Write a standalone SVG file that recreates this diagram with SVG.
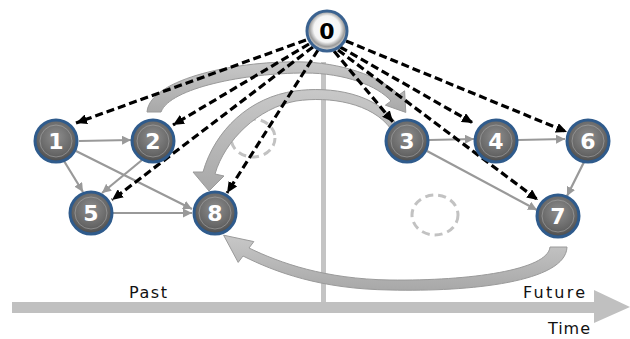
<svg xmlns="http://www.w3.org/2000/svg" width="630" height="339" viewBox="0 0 630 339">
<defs>
<marker id="ahB" markerUnits="userSpaceOnUse" markerWidth="12" markerHeight="10" refX="11" refY="5" orient="auto"><path d="M0,0 L11,5 L0,10 z" fill="#000"/></marker>
<marker id="ahG" markerUnits="userSpaceOnUse" markerWidth="10" markerHeight="9" refX="9" refY="4.5" orient="auto"><path d="M0,0 L9,4.5 L0,9 z" fill="#999"/></marker>
<radialGradient id="ng" cx="50%" cy="40%" r="60%">
<stop offset="0" stop-color="#8e8e8e"/><stop offset="0.7" stop-color="#666"/><stop offset="1" stop-color="#4a4a4a"/>
</radialGradient>
<radialGradient id="n0" cx="50%" cy="45%" r="55%">
<stop offset="0" stop-color="#fff"/><stop offset="0.6" stop-color="#f4f4f4"/><stop offset="0.8" stop-color="#9a9a9a"/><stop offset="1" stop-color="#eee"/>
</radialGradient>
<linearGradient id="ag" x1="0" y1="0" x2="0" y2="1">
<stop offset="0" stop-color="#c8c8c8"/><stop offset="1" stop-color="#a8a8a8"/>
</linearGradient>
</defs>
<style>
.dash{stroke:#000;stroke-width:3.2;stroke-dasharray:8,4;fill:none;marker-end:url(#ahB)}
.sol{stroke:#999;stroke-width:2.2;fill:none;marker-end:url(#ahG)}
.node circle.o{fill:url(#ng);stroke:#2f5b8c;stroke-width:3}
.node circle.i{fill:none;stroke:#a9a9a9;stroke-width:1;opacity:0.6}
.node text{font-family:"DejaVu Sans",sans-serif;font-weight:bold;font-size:22px;fill:#fff;text-anchor:middle}
.big{fill:url(#ag);stroke:#9a9a9a;stroke-width:1}
.dc{fill:none;stroke:#c2c2c2;stroke-width:3;stroke-dasharray:8,5}
.lbl{font-family:"DejaVu Sans",sans-serif;font-size:16px;fill:#111}
</style>
<g id="timeline">
<rect x="12" y="302" width="588" height="11" fill="#c0c0c0"/>
<polygon points="594,290 630,307 594,323" fill="#c0c0c0"/>
<rect x="321" y="62" width="5" height="240" fill="#c4c4c4"/>
<text class="lbl" x="129" y="298" textLength="38">Past</text>
<text class="lbl" x="523" y="298" textLength="62">Future</text>
<text class="lbl" x="548" y="334" textLength="42">Time</text>
</g>
<g id="dashed-circles">
<ellipse class="dc" cx="253" cy="138" rx="22" ry="19"/>
<ellipse class="dc" cx="435" cy="215" rx="23" ry="20"/>
</g>
<g id="flow-arrows">
<path class="big" d="M147,112 C150,78 240,60 305,62 C350,64 385,80 399,95 L404.6,90.8 L405.8,112.4 L385.4,105.2 L391,101 C378,86 345,73 305,73 C245,73 170,88 161,112 Z"/>
<path class="big" d="M397,125 C378,93 330,86 295,91 C250,97 215,130 203,172 L193,172 L209,191 L224,176 L215,174 C225,140 258,108 296,101 C330,96 372,103 391,129 Z"/>
<path class="big" d="M550,247 L567,247 C566,282 470,292 390,290 C320,289 275,272 243,256 L238.2,262.4 L223.6,235.2 L253.8,241.6 L249,248 C280,263 325,279 390,280 C470,281 548,270 550,247 Z"/>
</g>
<g id="connectors">
<line class="sol" x1="79" y1="141" x2="131" y2="140"/>
<line class="sol" x1="64" y1="161" x2="83" y2="192"/>
<line class="sol" x1="76" y1="151" x2="192" y2="209"/>
<line class="sol" x1="142" y1="160" x2="102" y2="193"/>
<line class="sol" x1="113" y1="213" x2="192" y2="213"/>
<line class="sol" x1="429" y1="140" x2="474" y2="139"/>
<line class="sol" x1="427" y1="151" x2="537" y2="210"/>
<line class="sol" x1="518" y1="140" x2="565" y2="139"/>
<line class="sol" x1="584" y1="162" x2="567" y2="196"/>
<line class="dash" x1="306" y1="40" x2="76" y2="123"/>
<line class="dash" x1="309" y1="44" x2="173" y2="125"/>
<line class="dash" x1="313" y1="47" x2="112" y2="200"/>
<line class="dash" x1="318" y1="50" x2="227" y2="193"/>
<line class="dash" x1="334" y1="51" x2="393" y2="122"/>
<line class="dash" x1="340" y1="47" x2="473" y2="123"/>
<line class="dash" x1="338" y1="50" x2="538" y2="200"/>
<line class="dash" x1="346" y1="41" x2="567" y2="132"/>
</g>
<g id="node0" class="node">
<circle cx="327" cy="31" r="20" fill="url(#n0)" stroke="#3a6290" stroke-width="3"/>
<text x="327" y="39" style="fill:#000">0</text>
</g>
<g id="node1" class="node"><circle class="o" cx="56" cy="141" r="21"/><circle class="i" cx="56" cy="141" r="16"/><text x="56" y="149">1</text></g>
<g id="node2" class="node"><circle class="o" cx="153" cy="141" r="21"/><circle class="i" cx="153" cy="141" r="16"/><text x="153" y="149">2</text></g>
<g id="node3" class="node"><circle class="o" cx="407" cy="141" r="21"/><circle class="i" cx="407" cy="141" r="16"/><text x="407" y="149">3</text></g>
<g id="node4" class="node"><circle class="o" cx="496" cy="141" r="21"/><circle class="i" cx="496" cy="141" r="16"/><text x="496" y="149">4</text></g>
<g id="node6" class="node"><circle class="o" cx="588" cy="141" r="21"/><circle class="i" cx="588" cy="141" r="16"/><text x="588" y="149">6</text></g>
<g id="node5" class="node"><circle class="o" cx="91" cy="213" r="21"/><circle class="i" cx="91" cy="213" r="16"/><text x="91" y="221">5</text></g>
<g id="node8" class="node"><circle class="o" cx="215" cy="213" r="21"/><circle class="i" cx="215" cy="213" r="16"/><text x="215" y="221">8</text></g>
<g id="node7" class="node"><circle class="o" cx="558" cy="216" r="21"/><circle class="i" cx="558" cy="216" r="16"/><text x="558" y="224">7</text></g>
</svg>
